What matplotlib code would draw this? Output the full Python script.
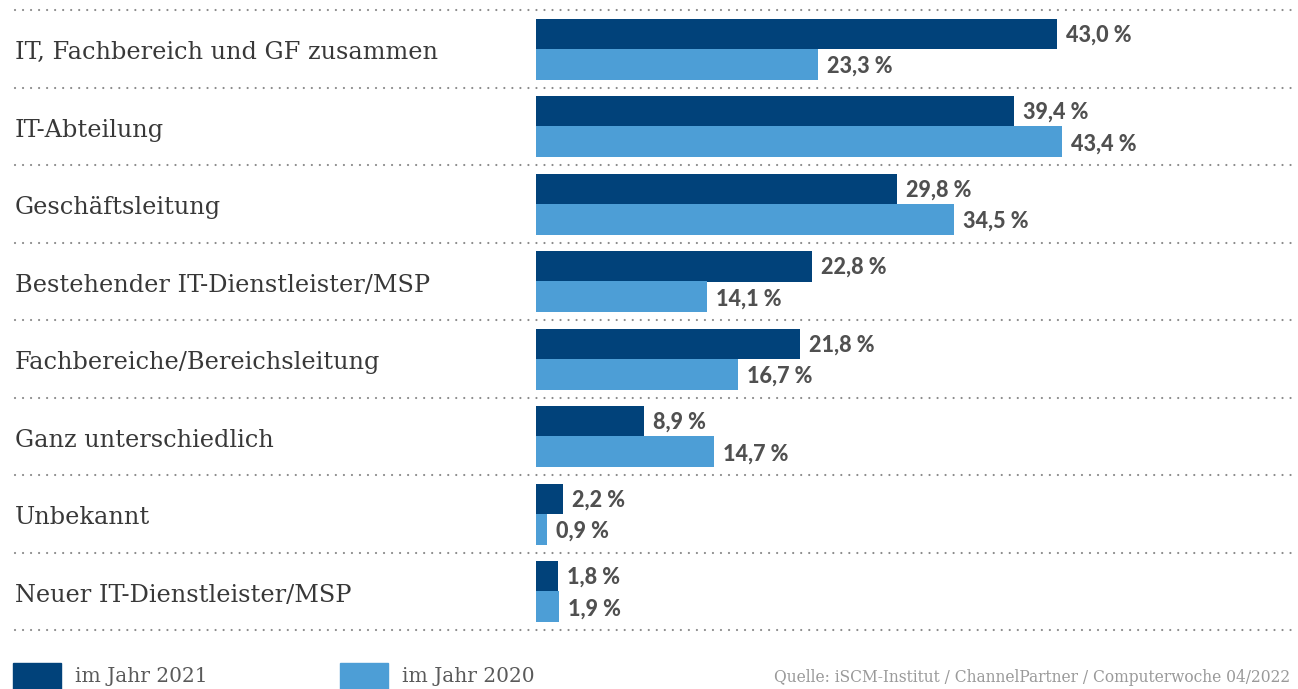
import matplotlib.pyplot as plt
from matplotlib.patches import Rectangle
from matplotlib.transforms import blended_transform_factory

# Daten aus der Grafik
categories = [
    "IT, Fachbereich und GF zusammen",
    "IT-Abteilung",
    "Geschäftsleitung",
    "Bestehender IT-Dienstleister/MSP",
    "Fachbereiche/Bereichsleitung",
    "Ganz unterschiedlich",
    "Unbekannt",
    "Neuer IT-Dienstleister/MSP",
]
values_2021 = [43.0, 39.4, 29.8, 22.8, 21.8, 8.9, 2.2, 1.8]
values_2020 = [23.3, 43.4, 34.5, 14.1, 16.7, 14.7, 0.9, 1.9]
series_labels = ["im Jahr 2021", "im Jahr 2020"]
source = "Quelle: iSCM-Institut / ChannelPartner / Computerwoche 04/2022"

DARK = "#01427a"
LIGHT = "#4d9ed6"
LABEL_FONT = "DejaVu Serif"
VALUE_FONT = "Lato"


def fmt(v):
    return f"{v:.1f}".replace(".", ",") + " %"


def main():
    W, H = 1298, 689
    fig = plt.figure(figsize=(W / 100, H / 100), dpi=100)

    # Plotbereich: x ab 536 px, Zeilen zwischen y=10 und y=630
    left, top, bottom = 536, 10, 630
    ax = fig.add_axes([left / W, (H - bottom) / H, (W - left) / W, (bottom - top) / H])
    px_per_pct = 12.12
    ax.set_xlim(0, (W - left) / px_per_pct)
    n = len(categories)
    ax.set_ylim(n, 0)
    ax.axis("off")

    rows = range(n)
    ax.barh([i + 0.31 for i in rows], values_2021, height=0.39, color=DARK, align="center")
    ax.barh([i + 0.70 for i in rows], values_2020, height=0.40, color=LIGHT, align="center")

    for i in rows:
        ax.text(values_2021[i] + 0.75, i + 0.32, fmt(values_2021[i]), va="center", ha="left",
                fontsize=15.5, fontweight="black", color="#505050", family=VALUE_FONT)
        ax.text(values_2020[i] + 0.75, i + 0.73, fmt(values_2020[i]), va="center", ha="left",
                fontsize=15.5, fontweight="black", color="#505050", family=VALUE_FONT)

    # Kategorien links, gepunktete Trennlinien
    trans = blended_transform_factory(fig.transFigure, ax.transData)
    for i, cat in enumerate(categories):
        ax.text(15 / W, i + 0.55, cat, transform=trans, va="center", ha="left",
                fontsize=17.3, color="#383838", family=LABEL_FONT, clip_on=False)
    for i in range(n + 1):
        ax.plot([15 / W, 1292 / W], [i, i], transform=trans, color="#8a8a8a",
                linewidth=1.6, linestyle=(0, (0.01, 3.6)), dash_capstyle="round",
                clip_on=False)

    # Legende
    for x0, color, lab in [(13, DARK, series_labels[0]), (340, LIGHT, series_labels[1])]:
        fig.patches.append(Rectangle((x0 / W, 0), 48 / W, 26 / H, transform=fig.transFigure,
                                     color=color))
        fig.text((x0 + 62) / W, 12 / H, lab, va="center", ha="left", fontsize=14.5,
                 color="#5a5a5a", family=LABEL_FONT)

    fig.text(1290 / W, 12 / H, source, va="center", ha="right", fontsize=11.2,
             color="#9a9a9a", family=LABEL_FONT)

    fig.savefig("out.png", dpi=100)


if __name__ == "__main__":
    main()
